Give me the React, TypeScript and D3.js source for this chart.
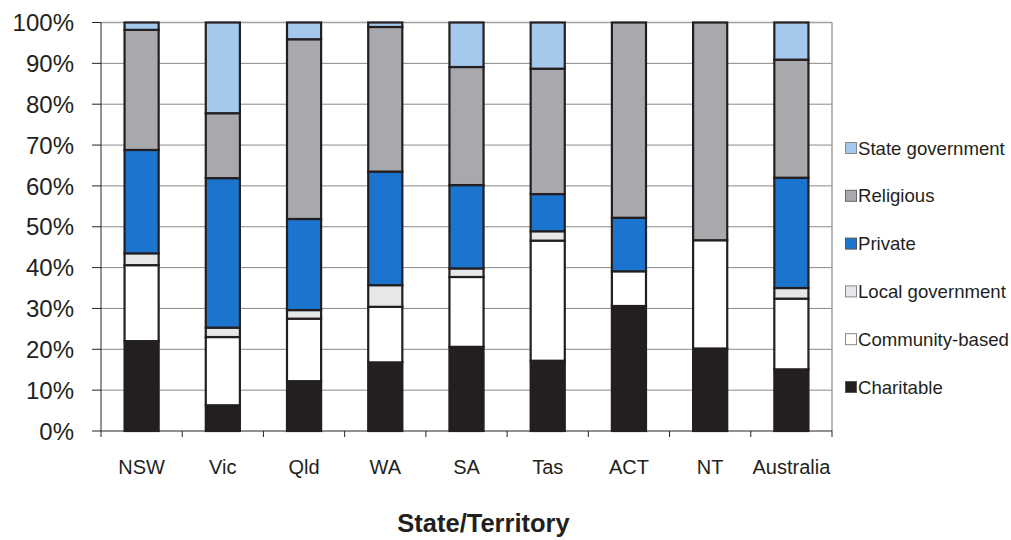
import React from "react";
import * as d3 from "d3";

const categories = ["NSW", "Vic", "Qld", "WA", "SA", "Tas", "ACT", "NT", "Australia"];
const seriesNames = ["Charitable", "Community-based", "Local government", "Private", "Religious", "State government"];
const charitable = [22.0, 6.3, 12.2, 16.8, 20.6, 17.2, 30.6, 20.2, 15.1];
const communityBased = [18.6, 16.7, 15.3, 13.6, 17.1, 29.4, 8.5, 26.5, 17.3];
const localGovernment = [2.9, 2.3, 2.1, 5.3, 2.1, 2.3, 0, 0, 2.6];
const privateSector = [25.3, 36.6, 22.3, 27.8, 20.4, 9.1, 13.1, 0, 27.0];
const religious = [29.4, 15.9, 44.0, 35.4, 28.9, 30.7, 47.8, 53.3, 28.9];
const stateGovernment = [1.8, 22.2, 4.1, 1.1, 10.9, 11.3, 0, 0, 9.1];
const yTicks = [0, 10, 20, 30, 40, 50, 60, 70, 80, 90, 100];

const colors = ["#231f20", "#ffffff", "#e6e7e8", "#1b75ce", "#a7a9ac", "#a5c9ec"];
const legendBorder = ["#555", "#888", "#888", "#555", "#666", "#888"];

const W = 1011;
const H = 540;
const m = { left: 101, right: 832, top: 22.5, bottom: 431 };
const font = "'Liberation Sans', Arial, sans-serif";

export default function App() {
  const seriesValues = [charitable, communityBased, localGovernment, privateSector, religious, stateGovernment];
  const rows = categories.map((c, i) => {
    const r: Record<string, any> = { cat: c };
    seriesNames.forEach((s, k) => (r[s] = seriesValues[k][i]));
    return r;
  });
  const stack = d3.stack<any>().keys(seriesNames)(rows);

  const x = d3.scaleBand().domain(categories).range([m.left, m.right]).paddingInner(0).paddingOuter(0);
  const y = d3.scaleLinear().domain([0, 100]).range([m.bottom, m.top]);
  const barW = x.bandwidth() * 0.42;

  const legendOrder = [5, 4, 3, 2, 1, 0];

  return (
    <svg width={W} height={H} style={{ position: "absolute", left: 0, top: 0 }} fontFamily={font}>
      <rect x={0} y={0} width={W} height={H} fill="#fff" />
      {/* gridlines */}
      {yTicks.slice(1).map((t) => (
        <line key={t} x1={m.left} x2={m.right} y1={y(t)} y2={y(t)} stroke="#8a8a8a" strokeWidth={1} />
      ))}
      <line x1={m.right} x2={m.right} y1={m.top} y2={m.bottom} stroke="#a0a0a0" strokeWidth={1.5} />
      <line x1={m.left} x2={m.right} y1={m.top} y2={m.top} stroke="#a0a0a0" strokeWidth={1.5} />

      {/* bars */}
      {stack.map((layer, k) =>
        layer.map((d, i) => {
          const h = y(d[0]) - y(d[1]);
          if (h <= 0) return null;
          return (
            <rect
              key={`${k}-${i}`}
              x={(x(categories[i]) as number) + (x.bandwidth() - barW) / 2}
              y={y(d[1])}
              width={barW}
              height={h}
              fill={colors[k]}
              stroke="#231f20"
              strokeWidth={2.2}
            />
          );
        })
      )}

      {/* y axis */}
      <line x1={m.left} x2={m.left} y1={m.top} y2={m.bottom} stroke="#222" strokeWidth={1} />
      {yTicks.map((t) => (
        <g key={t}>
          <line x1={m.left - 9} x2={m.left} y1={y(t)} y2={y(t)} stroke="#222" strokeWidth={1} />
          <text x={74} y={y(t)} dy="0.36em" textAnchor="end" fontSize={24} fill="#231f20">
            {t}%
          </text>
        </g>
      ))}

      {/* x axis */}
      <line x1={m.left} x2={m.right} y1={m.bottom} y2={m.bottom} stroke="#222" strokeWidth={1} />
      {categories.map((c, i) => (
        <line
          key={`t${i}`}
          x1={x(c) as number}
          x2={x(c) as number}
          y1={m.bottom}
          y2={m.bottom + 6}
          stroke="#222"
          strokeWidth={1}
        />
      ))}
      <line x1={m.right} x2={m.right} y1={m.bottom} y2={m.bottom + 6} stroke="#222" strokeWidth={1} />
      {categories.map((c) => (
        <text
          key={c}
          x={(x(c) as number) + x.bandwidth() / 2}
          y={473.5}
          textAnchor="middle"
          fontSize={20}
          fill="#231f20"
        >
          {c}
        </text>
      ))}
      <text x={483.5} y={532} textAnchor="middle" fontSize={25.5} fontWeight="bold" fill="#231f20">
        State/Territory
      </text>

      {/* legend */}
      {legendOrder.map((k, j) => {
        const ly = 148 + j * 47.8;
        return (
          <g key={seriesNames[k]}>
            <rect x={845.5} y={ly - 5.5} width={11} height={11} fill={colors[k]} stroke={legendBorder[k]} strokeWidth={1} />
            <text x={858} y={ly} dy="0.36em" fontSize={18.6} fill="#231f20">
              {seriesNames[k]}
            </text>
          </g>
        );
      })}
    </svg>
  );
}
